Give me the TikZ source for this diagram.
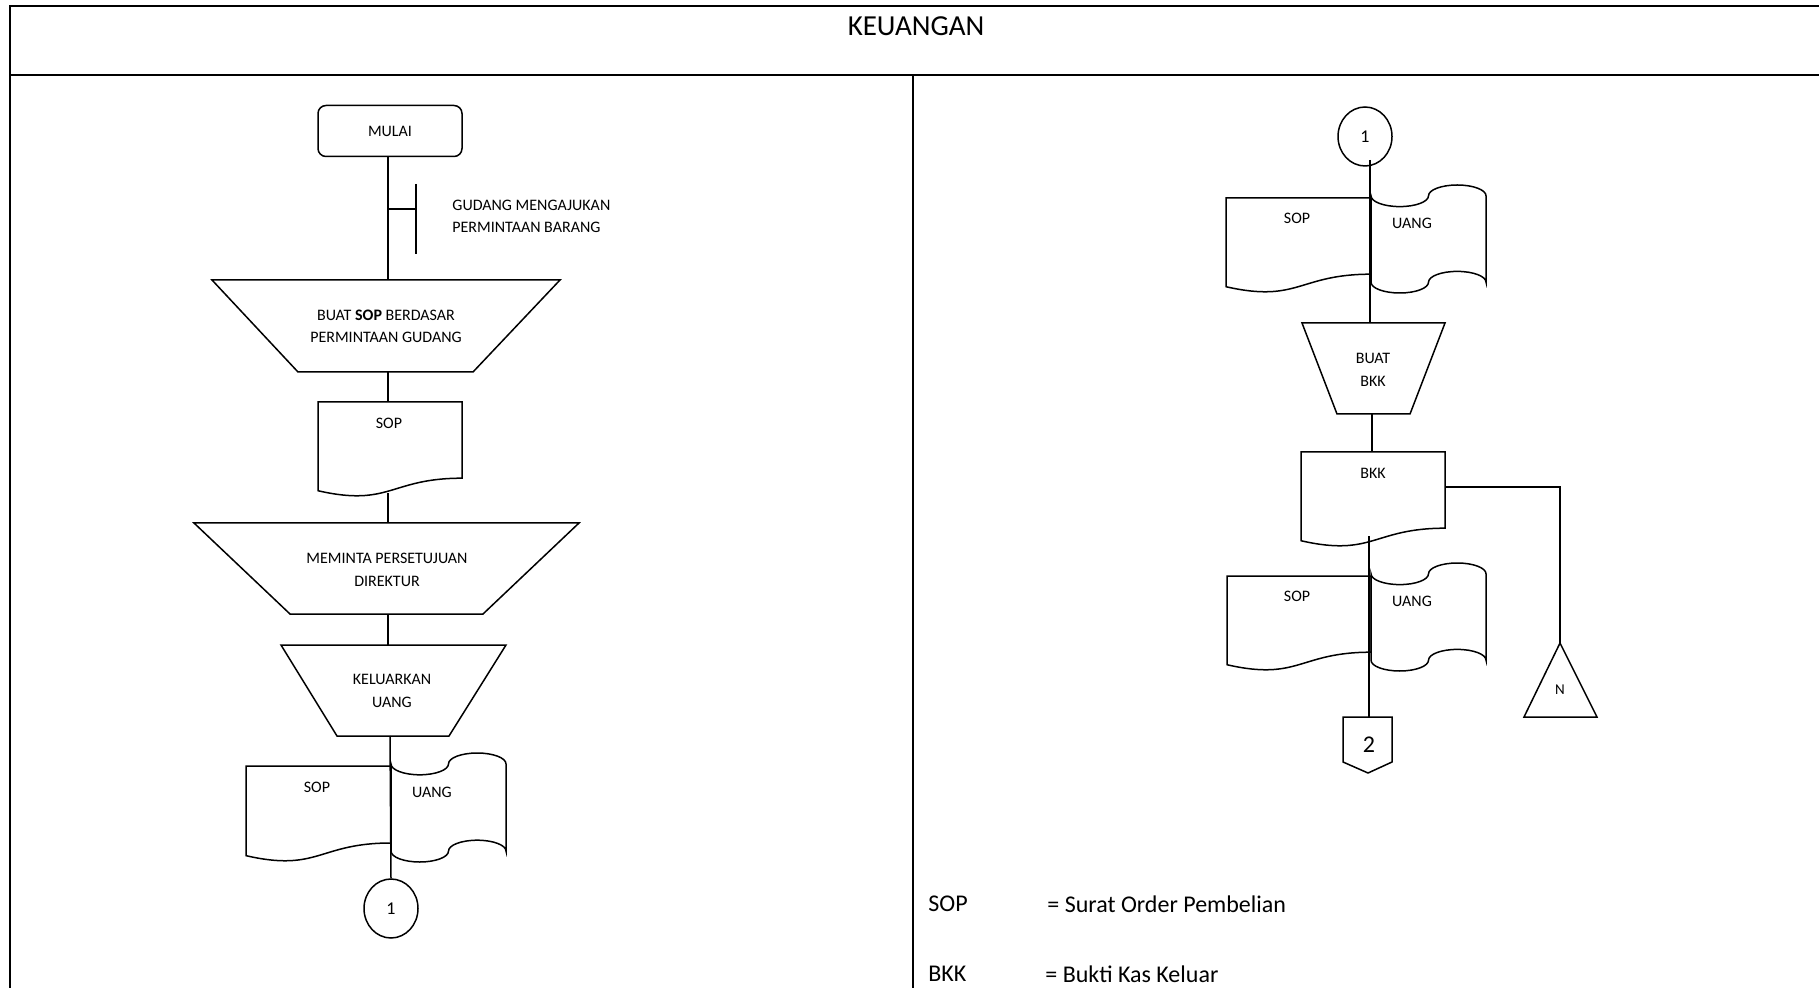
\documentclass[tikz,border=0pt]{standalone}
\usepackage{fontspec}
\setmainfont{Carlito}
\usetikzlibrary{shapes.geometric}

% document symbol: left x, top y, width, height
\newcommand\DocShape[4]{%
  \draw[shp] (#1,#2) -- ({#1+#3},#2) -- ({#1+#3},{#2+0.802*#4})
    .. controls ({#1+0.5*#3},{#2+0.802*#4}) and ({#1+0.5*#3},{#2+1.1075*#4}) .. (#1,{#2+0.934*#4}) -- cycle;}
% punched tape symbol: left x, top y, width, height
\newcommand\TapeShape[4]{%
  \draw[shp] (#1,{#2+0.1*#4})
    arc[start angle=180,end angle=0,x radius={0.25*#3},y radius={0.1*#4}]
    arc[start angle=180,end angle=360,x radius={0.25*#3},y radius={0.1*#4}]
    -- ({#1+#3},{#2+0.9*#4})
    arc[start angle=0,end angle=-180,x radius={0.25*#3},y radius={0.1*#4}]
    arc[start angle=0,end angle=180,x radius={0.25*#3},y radius={0.1*#4}] -- cycle;}

\tikzset{
  shp/.style={draw=black, line width=0.75pt, fill=white, line join=miter},
  frm/.style={draw=black, line width=1.1pt},
  link/.style={draw=black, line width=0.75pt},
  txt/.style={font=\fontsize{8}{11.3}\selectfont, align=center, inner sep=0pt},
  conn/.style={shp, ellipse, minimum width=27pt, minimum height=29.5pt, inner sep=0pt,
               font=\fontsize{9}{10}\selectfont},
  legend/.style={font=\fontsize{12}{14}\selectfont, anchor=west, inner sep=0pt},
}

\begin{document}
\begin{tikzpicture}[x=0.5pt, y=-0.5pt]
\useasboundingbox (0,0) rectangle (1819,988);

% ---- frame ----
\draw[frm] (1830,6) -- (10,6) -- (10,1000);
\draw[frm] (10,75) -- (1830,75);
\draw[frm] (913,75) -- (913,1000);
\node[font=\fontsize{14.5}{16}\selectfont, inner sep=0pt] (title) at (916,26) {KEUANGAN};

% ---- left column ----
\node[shp, rounded corners=4pt, minimum width=72pt, minimum height=25.5pt, inner sep=0pt,
      font=\fontsize{8}{10}\selectfont] (mulai) at (390,131) {MULAI};

\coordinate (ann) at (416,209);
\node[txt, anchor=west, align=left] (note) at (452,216.5) {GUDANG MENGAJUKAN\\PERMINTAAN BARANG};

\draw[shp] (212,280) -- (560,280) -- (473,372) -- (298,372) -- cycle;
\node[txt] (buatsop) at (386,326.5) {BUAT \textbf{SOP} BERDASAR\\PERMINTAAN GUDANG};
\coordinate (t1N) at (388,280);
\coordinate (t1S) at (388,372);

\DocShape{318}{402}{144}{95}
\node[txt] (sop1) at (389,423) {SOP};
\coordinate (d1N) at (388,402);
\coordinate (d1S) at (388,493);

\draw[shp] (194,523) -- (579,523) -- (483,614) -- (290,614) -- cycle;
\node[txt] (minta) at (387,570) {MEMINTA PERSETUJUAN\\DIREKTUR};
\coordinate (t2N) at (388,523);
\coordinate (t2S) at (388,614);

\draw[shp] (281,645) -- (506,645) -- (449,736) -- (337,736) -- cycle;
\node[txt] (keluar) at (392,691) {KELUARKAN\\UANG};
\coordinate (t3N) at (388,645);
\coordinate (t3S) at (390,736);

\DocShape{246}{766}{145}{96}
\TapeShape{391}{753}{115}{109}
\node[txt] (sop2) at (317,787) {SOP};
\node[txt] (uang2) at (432,792) {UANG};

\node[conn] (c1a) at (391,908.5) {1};

% ---- right column ----
\node[conn] (c1b) at (1365,136.5) {1};
\coordinate (c1bS) at (1370,160);

\DocShape{1226}{198}{145}{95}
\TapeShape{1371}{185}{115}{108}
\node[txt] (sop3) at (1297,218) {SOP};
\node[txt] (uang3) at (1412,223) {UANG};

\draw[shp] (1302,323) -- (1445,323) -- (1410,414) -- (1337,414) -- cycle;
\node[txt] (buatbkk) at (1373,370) {BUAT\\BKK};
\coordinate (t4N) at (1370,323);
\coordinate (t4S) at (1372,414);

\DocShape{1301}{452}{144}{95}
\node[txt] (bkk) at (1373,473) {BKK};
\coordinate (d4N) at (1372,452);
\coordinate (d4E) at (1445,487);
\coordinate (d4S) at (1369,536);

\DocShape{1227}{576}{144}{95}
\TapeShape{1371}{563}{115}{108}
\node[txt] (sop4) at (1297,596) {SOP};
\node[txt] (uang4) at (1412,601) {UANG};

\draw[shp] (1560,643) -- (1597,717) -- (1524,717) -- cycle;
\node[txt, font=\fontsize{7.5}{9}\selectfont] (arsip) at (1560,690) {N};
\coordinate (triN) at (1560,643);

\draw[shp] (1343,717) -- (1392,717) -- (1392,762) -- (1368,773) -- (1343,762) -- cycle;
\node[txt, font=\fontsize{12}{14}\selectfont] (off2) at (1369,745) {2};
\coordinate (offN) at (1369,717);

% ---- legend ----
\node[legend] (k1) at (928,904) {SOP};
\node[legend] (v1) at (1047,904) {= Surat Order Pembelian};
\node[legend] (k2) at (928,974) {BKK};
\node[legend] (v2) at (1045,974) {= Bukti Kas Keluar};

% ---- connectors ----
\draw[link] (mulai.south -| t1N) -- (t1N);
\draw[link] (ann -| t1N) -- (ann);
\draw[link] ([yshift=12.5pt]ann) -- ([yshift=-22.5pt]ann);
\draw[link] (t1S) -- (d1N);
\draw[link] (d1S) -- (t2N);
\draw[link] (t2S) -- (t3N);
\draw[link] (t3S) -- (c1a.north);
\draw[link] (c1bS) -- (t4N);
\draw[link] (t4S) -- (d4N);
\draw[link] (d4E) -| (triN);
\draw[link] (d4S) -- (offN);
\end{tikzpicture}
\end{document}
